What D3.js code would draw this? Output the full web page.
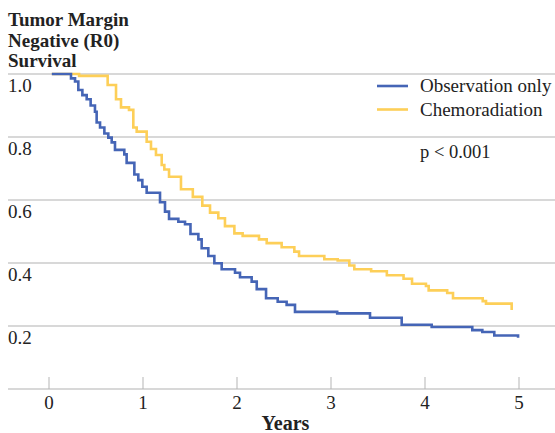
<!DOCTYPE html>
<meta charset="utf-8">
<head>
    <title>Tumor margin negative survival</title>
</head>
<style>
 body { margin: 0; background: #fff; }
 svg text { font-family: "Liberation Serif", "Times New Roman", serif; fill: #222; }
 .grid { stroke: #cbcbcb; stroke-width: 1.5px; }
 .tick-mark { stroke: #b5b5b5; stroke-width: 1px; }
 .km { fill: none; stroke-width: 2.6px; stroke-linejoin: miter; }
</style>
<body>
    <div id="chart"></div>
    <script src="https://d3js.org/d3.v7.min.js"></script>
    <script>

     // step points: [years, survival]
     var observationOnly = [
         [0.03, 1.0], [0.234, 0.986], [0.277, 0.976], [0.312, 0.949], [0.355, 0.933],
         [0.401, 0.920], [0.443, 0.900], [0.489, 0.880], [0.507, 0.846], [0.543, 0.830],
         [0.589, 0.811], [0.631, 0.798], [0.667, 0.783], [0.702, 0.759], [0.801, 0.745],
         [0.826, 0.718], [0.908, 0.681], [0.950, 0.663], [0.993, 0.642], [1.039, 0.623],
         [1.181, 0.593], [1.234, 0.563], [1.277, 0.540], [1.376, 0.531], [1.447, 0.523],
         [1.505, 0.492], [1.589, 0.475], [1.624, 0.447], [1.695, 0.422], [1.759, 0.399],
         [1.837, 0.380], [1.979, 0.369], [2.032, 0.355], [2.156, 0.341], [2.210, 0.317],
         [2.309, 0.288], [2.433, 0.277], [2.528, 0.267], [2.617, 0.245], [3.066, 0.240],
         [3.415, 0.226], [3.752, 0.204], [4.071, 0.197], [4.503, 0.187], [4.610, 0.181],
         [4.737, 0.170], [4.990, 0.163]
     ];

     var chemoradiation = [
         [0.03, 1.0], [0.320, 0.994], [0.624, 0.965], [0.713, 0.920], [0.766, 0.894],
         [0.851, 0.886], [0.897, 0.830], [0.933, 0.817], [1.039, 0.785], [1.085, 0.762],
         [1.138, 0.743], [1.199, 0.711], [1.227, 0.697], [1.277, 0.674], [1.404, 0.634],
         [1.530, 0.610], [1.631, 0.582], [1.713, 0.560], [1.801, 0.542], [1.872, 0.517],
         [1.972, 0.494], [2.060, 0.486], [2.234, 0.475], [2.316, 0.463], [2.475, 0.450],
         [2.610, 0.436], [2.660, 0.422], [2.929, 0.412], [3.071, 0.408], [3.195, 0.392],
         [3.248, 0.380], [3.427, 0.374], [3.594, 0.361], [3.772, 0.350], [3.862, 0.334],
         [4.010, 0.327], [4.039, 0.313], [4.236, 0.305], [4.298, 0.288], [4.614, 0.279],
         [4.649, 0.271], [4.922, 0.251]
     ];

     var xTicks = [0, 1, 2, 3, 4, 5];
     var yTicks = [0.2, 0.4, 0.6, 0.8, 1.0];
     var seriesNames = ["Observation only", "Chemoradiation"];
     var seriesColors = ["#4565b6", "#fdcf58"];
     var titleLines = ["Tumor Margin", "Negative (R0)", "Survival"];

     var width = 555,
         height = 433;

     var svg = d3.select("#chart").append("svg")
                 .attr("width", width)
                 .attr("height", height);

     var x = d3.scaleLinear().domain([0, 5]).range([49, 519]);
     var y = d3.scaleLinear().domain([0, 1]).range([389, 74]);

     // horizontal grid lines with their labels sitting underneath
     svg.append("g")
        .selectAll("line")
        .data(yTicks)
        .enter()
        .append("line")
        .attr("class", "grid")
        .attr("x1", 8)
        .attr("x2", width)
        .attr("y1", function(d) { return y(d); })
        .attr("y2", function(d) { return y(d); });

     svg.append("g")
        .selectAll("text")
        .data(yTicks)
        .enter()
        .append("text")
        .attr("x", 8)
        .attr("y", function(d) { return y(d) + 18; })
        .style("font-size", "19px")
        .text(function(d) { return d3.format(".1f")(d); });

     // x axis: baseline, short upward ticks, labels
     svg.append("line")
        .attr("class", "grid")
        .attr("x1", 8)
        .attr("x2", width)
        .attr("y1", y(0))
        .attr("y2", y(0));

     svg.append("g")
        .selectAll("line")
        .data(xTicks)
        .enter()
        .append("line")
        .attr("class", "tick-mark")
        .attr("x1", function(d) { return x(d); })
        .attr("x2", function(d) { return x(d); })
        .attr("y1", y(0) - 12)
        .attr("y2", y(0));

     svg.append("g")
        .selectAll("text")
        .data(xTicks)
        .enter()
        .append("text")
        .attr("x", function(d) { return x(d); })
        .attr("y", y(0) + 20)
        .attr("text-anchor", "middle")
        .style("font-size", "19px")
        .text(function(d) { return d; });

     svg.append("text")
        .attr("x", 285.5)
        .attr("y", 430)
        .attr("text-anchor", "middle")
        .style("font-size", "20px")
        .style("font-weight", "bold")
        .text("Years");

     // y title, three lines
     svg.append("text")
        .style("font-size", "19px")
        .style("font-weight", "bold")
        .selectAll("tspan")
        .data(titleLines)
        .enter()
        .append("tspan")
        .attr("x", 8)
        .attr("y", function(d, i) { return 26 + i * 20.5; })
        .text(function(d) { return d; });

     // survival curves
     var line = d3.line()
                  .x(function(d) { return x(d[0]); })
                  .y(function(d) { return y(d[1]); })
                  .curve(d3.curveStepAfter);

     svg.append("path")
        .datum(chemoradiation)
        .attr("class", "km")
        .attr("stroke", seriesColors[1])
        .attr("d", line);

     svg.append("path")
        .datum(observationOnly)
        .attr("class", "km")
        .attr("stroke", seriesColors[0])
        .attr("d", line);

     // legend
     var legend = svg.append("g")
                     .selectAll("g")
                     .data(seriesNames)
                     .enter()
                     .append("g")
                     .attr("transform", function(d, i) {
                         return "translate(377," + (86 + i * 23.5) + ")";
                     });

     legend.append("line")
           .attr("x1", 0)
           .attr("x2", 31)
           .attr("stroke-width", 2.6)
           .attr("stroke", function(d, i) { return seriesColors[i]; });

     legend.append("text")
           .attr("x", 43)
           .attr("y", 6)
           .style("font-size", "19px")
           .text(function(d) { return d; });

     svg.append("text")
        .attr("x", 420)
        .attr("y", 158)
        .style("font-size", "18.5px")
        .text("p < 0.001");

    </script>
</body>
